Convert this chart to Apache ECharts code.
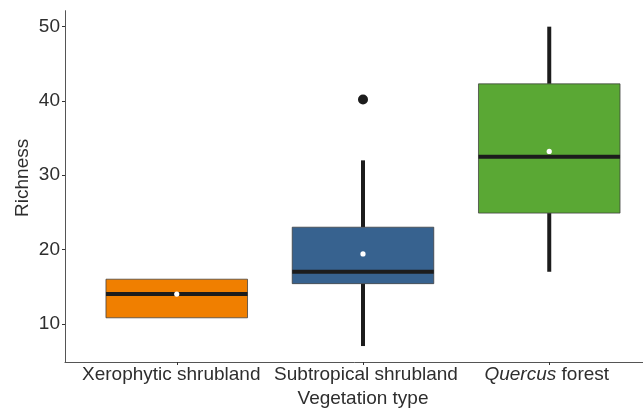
<!DOCTYPE html>
<html>
<head>
<meta charset="utf-8">
<script src="https://cdn.jsdelivr.net/npm/echarts@6/dist/echarts.min.js"></script>
<style>html,body{margin:0;padding:0;background:#fff}#c{width:643px;height:410px}</style>
</head>
<body>
<div id="c"></div>
<script>
const categories = ['Xerophytic shrubland', 'Subtropical shrubland', 'Quercus forest'];
const lowerWhisker = [10.8, 7, 17];
const q1 = [10.8, 15.4, 24.9];
const median = [14, 17, 32.5];
const q3 = [16, 23, 42.3];
const upperWhisker = [16, 32, 50];
const means = [14, 19.4, 33.2];
const outliers = [[2, 40.2]];
const yTicks = [10, 20, 30, 40, 50];
const boxColors = ['#F07F00', '#37628F', '#5AA834'];

const boxData = categories.map((c, i) => [i + 1, lowerWhisker[i], q1[i], median[i], q3[i], upperWhisker[i], means[i]]);

const chart = echarts.init(document.getElementById('c'), null, {renderer: 'canvas'});
const textColor = '#2e2e2e';
const font = '"Liberation Sans", Arial, Helvetica, sans-serif';
const fs = 19;

chart.setOption({
  animation: false,
  grid: {left: 65, top: 10.7, width: 596, height: 351.3, containLabel: false, outerBoundsMode: 'none'},
  xAxis: {
    type: 'value', min: 0.4, max: 3.6,
    name: 'Vegetation type', nameLocation: 'middle', nameGap: 27, nameMoveOverlap: false,
    nameTextStyle: {color: textColor, fontSize: fs, fontFamily: font},
    axisLine: {show: true, lineStyle: {color: '#555', width: 1}},
    axisTick: {show: true, length: 3, customValues: [1, 2, 3], lineStyle: {color: '#333'}},
    splitLine: {show: false},
    axisLabel: {
      customValues: [1, 2, 3], margin: 3, color: textColor, fontSize: fs, fontFamily: font,
      formatter: function (v) {
        const i = Math.round(v) - 1;
        if (i === 0) return '{a|' + categories[0] + '}';
        if (i === 1) return '{b|' + categories[1] + '}';
        return '{c|}{it|Quercus}{n| forest}';
      },
      rich: {
        a: {fontSize: fs, color: textColor, fontFamily: font, padding: [0, 11, 0, 0]},
        b: {fontSize: fs, color: textColor, fontFamily: font, padding: [0, 0, 0, 6]},
        c: {width: 0},
        it: {fontStyle: 'italic', fontSize: fs, color: textColor, fontFamily: font},
        n: {fontSize: fs, color: textColor, fontFamily: font, padding: [0, 5, 0, 0]}
      }
    }
  },
  yAxis: {
    type: 'value', min: 4.85, max: 52.15,
    name: 'Richness', nameLocation: 'middle', nameGap: 33, nameRotate: 90, nameMoveOverlap: false,
    nameTextStyle: {color: textColor, fontSize: fs, fontFamily: font, padding: [0, 0, 0, 17]},
    axisLine: {show: true, lineStyle: {color: '#555', width: 1}},
    axisTick: {show: true, length: 3, customValues: yTicks, lineStyle: {color: '#333'}},
    splitLine: {show: false},
    axisLabel: {customValues: yTicks, margin: 5, color: textColor, fontSize: fs, fontFamily: font}
  },
  series: [
    {
      type: 'custom',
      data: boxData,
      encode: {x: 0, y: [1, 2, 3, 4, 5, 6]},
      renderItem: function (params, api) {
        const x = api.value(0);
        const idx = params.dataIndex;
        const halfW = api.size([0.76, 0])[0] / 2;
        const pLow = api.coord([x, api.value(1)]);
        const pQ1 = api.coord([x, api.value(2)]);
        const pMed = api.coord([x, api.value(3)]);
        const pQ3 = api.coord([x, api.value(4)]);
        const pHigh = api.coord([x, api.value(5)]);
        const pMean = api.coord([x, api.value(6)]);
        const cx = pMed[0];
        const dark = '#1c1c1c';
        const children = [];
        if (pHigh[1] < pQ3[1]) children.push({type: 'line', shape: {x1: cx, y1: pHigh[1], x2: cx, y2: pQ3[1]}, style: {stroke: dark, lineWidth: 4}});
        if (pLow[1] > pQ1[1]) children.push({type: 'line', shape: {x1: cx, y1: pQ1[1], x2: cx, y2: pLow[1]}, style: {stroke: dark, lineWidth: 4}});
        children.push({type: 'rect', shape: {x: cx - halfW, y: pQ3[1], width: halfW * 2, height: pQ1[1] - pQ3[1]},
          style: {fill: boxColors[idx], stroke: 'rgba(60,60,60,0.75)', lineWidth: 1}});
        children.push({type: 'line', shape: {x1: cx - halfW, y1: pMed[1], x2: cx + halfW, y2: pMed[1]}, style: {stroke: dark, lineWidth: 4}});
        children.push({type: 'circle', shape: {cx: pMean[0], cy: pMean[1], r: 2.6}, style: {fill: '#fff'}});
        return {type: 'group', children: children};
      }
    },
    {
      type: 'scatter',
      data: outliers,
      symbol: 'circle',
      symbolSize: 10,
      itemStyle: {color: '#1c1c1c', opacity: 1}
    }
  ]
});
</script>
</body>
</html>
